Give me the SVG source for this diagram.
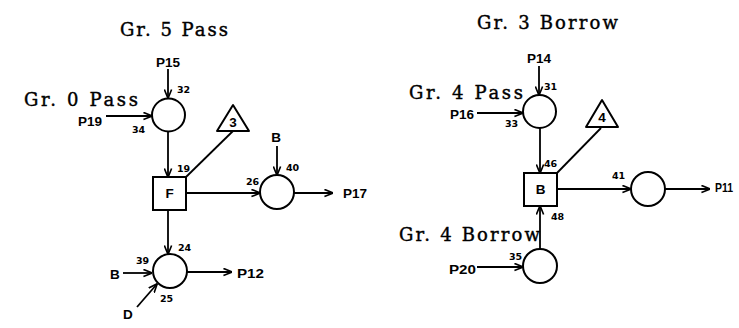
<svg xmlns="http://www.w3.org/2000/svg" width="739" height="328" viewBox="0 0 739 328">
<defs>
<marker id="arr" viewBox="0 0 10 10" refX="9.5" refY="5" markerWidth="9" markerHeight="9" markerUnits="userSpaceOnUse" orient="auto">
<path d="M0,1 L10,5 L0,9" fill="none" stroke="#000" stroke-width="1.8"/>
</marker>
<style>
.title{font-family:"DejaVu Serif","Liberation Serif",serif;font-size:18px;fill:#000;stroke:#000;stroke-width:0.4}
.lbl{font-family:"Liberation Sans","DejaVu Sans",sans-serif;font-weight:bold;font-size:13.5px;fill:#000}
.num{font-family:"DejaVu Sans","Liberation Sans",sans-serif;font-weight:bold;font-size:9.5px;fill:#000}
.shape{fill:#fff;stroke:#000;stroke-width:2}
.c{fill:none;stroke:#000;stroke-width:1.8}
.a{marker-end:url(#arr)}
</style>
</defs>
<rect width="739" height="328" fill="#fff"/>

<g id="titles">
<text class="title" x="120" y="36" textLength="108" lengthAdjust="spacing">Gr. 5 Pass</text>
<text class="title" x="24" y="106" textLength="114" lengthAdjust="spacing">Gr. 0 Pass</text>
<text class="title" x="477" y="29" textLength="141" lengthAdjust="spacing">Gr. 3 Borrow</text>
<text class="title" x="409" y="99" textLength="114" lengthAdjust="spacing">Gr. 4 Pass</text>
<text class="title" x="399" y="241" textLength="141" lengthAdjust="spacing">Gr. 4 Borrow</text>
</g>

<g id="connectors">
<line class="c a" x1="168" y1="69" x2="168" y2="98"/>
<line class="c a" x1="106" y1="116" x2="152" y2="116"/>
<line class="c a" x1="168" y1="132" x2="168" y2="177"/>
<line class="c" x1="233" y1="131" x2="186" y2="177"/>
<line class="c a" x1="186" y1="193" x2="260" y2="193"/>
<line class="c a" x1="277" y1="146" x2="277" y2="175"/>
<line class="c a" x1="294" y1="193" x2="333" y2="193"/>
<line class="c a" x1="168" y1="210" x2="168" y2="254"/>
<line class="c a" x1="123" y1="273" x2="152" y2="273"/>
<line class="c a" x1="186" y1="272" x2="232" y2="272"/>
<line class="c a" x1="137" y1="307" x2="157" y2="284"/>

<line class="c a" x1="539" y1="66" x2="539" y2="95"/>
<line class="c a" x1="477" y1="113" x2="523" y2="113"/>
<line class="c a" x1="540" y1="128" x2="540" y2="173"/>
<line class="c" x1="601" y1="128" x2="557" y2="173"/>
<line class="c a" x1="557" y1="189" x2="631" y2="189"/>
<line class="c a" x1="665" y1="189" x2="710" y2="189"/>
<line class="c a" x1="540" y1="249" x2="540" y2="206"/>
<line class="c a" x1="477" y1="267" x2="523" y2="267"/>
</g>

<g id="n-c32">
<circle class="shape" cx="168.5" cy="115" r="16.5"/>
</g>
<g id="n-tri3">
<polygon class="shape" points="233,105 217,131 249,131" stroke-linejoin="round"/>
<text class="lbl" x="233" y="127" text-anchor="middle">3</text>
</g>
<g id="n-F">
<rect class="shape" x="153" y="177" width="33" height="33"/>
<text class="lbl" x="169.5" y="198" text-anchor="middle">F</text>
</g>
<g id="n-c40">
<circle class="shape" cx="277" cy="192" r="17"/>
</g>
<g id="n-c24">
<circle class="shape" cx="170" cy="271" r="17"/>
</g>

<g id="n-c31">
<circle class="shape" cx="539.5" cy="111.5" r="16.5"/>
</g>
<g id="n-tri4">
<polygon class="shape" points="602,100 586,127 618,127" stroke-linejoin="round"/>
<text class="lbl" x="602" y="122" text-anchor="middle">4</text>
</g>
<g id="n-B">
<rect class="shape" x="524" y="173" width="33" height="33"/>
<text class="lbl" x="540.5" y="194" text-anchor="middle">B</text>
</g>
<g id="n-c41">
<circle class="shape" cx="648" cy="189" r="17"/>
</g>
<g id="n-c35">
<circle class="shape" cx="540" cy="266" r="17"/>
</g>

<g id="labels">
<text class="lbl" x="168" y="67" text-anchor="middle">P15</text>
<text class="num" x="177" y="93">32</text>
<text class="lbl" x="78" y="126">P19</text>
<text class="num" x="132" y="133">34</text>
<text class="num" x="177" y="172">19</text>
<text class="lbl" x="276" y="142" text-anchor="middle">B</text>
<text class="num" x="286" y="171">40</text>
<text class="num" x="246" y="185">26</text>
<text class="lbl" x="343" y="198">P17</text>
<text class="num" x="178" y="251">24</text>
<text class="num" x="136" y="264">39</text>
<text class="lbl" x="110" y="279">B</text>
<text class="lbl" x="237" y="278" textLength="27" lengthAdjust="spacingAndGlyphs">P12</text>
<text class="lbl" x="123" y="319">D</text>
<text class="num" x="160" y="302">25</text>

<text class="lbl" x="539" y="63" text-anchor="middle">P14</text>
<text class="num" x="544" y="90">31</text>
<text class="lbl" x="450" y="119">P16</text>
<text class="num" x="505" y="127">33</text>
<text class="num" x="544" y="167">46</text>
<text class="num" x="612" y="179">41</text>
<text class="lbl" x="715" y="192" textLength="18" lengthAdjust="spacingAndGlyphs">P11</text>
<text class="num" x="551" y="220">48</text>
<text class="num" x="509" y="260">35</text>
<text class="lbl" x="449" y="274" textLength="27" lengthAdjust="spacingAndGlyphs">P20</text>
</g>
</svg>
